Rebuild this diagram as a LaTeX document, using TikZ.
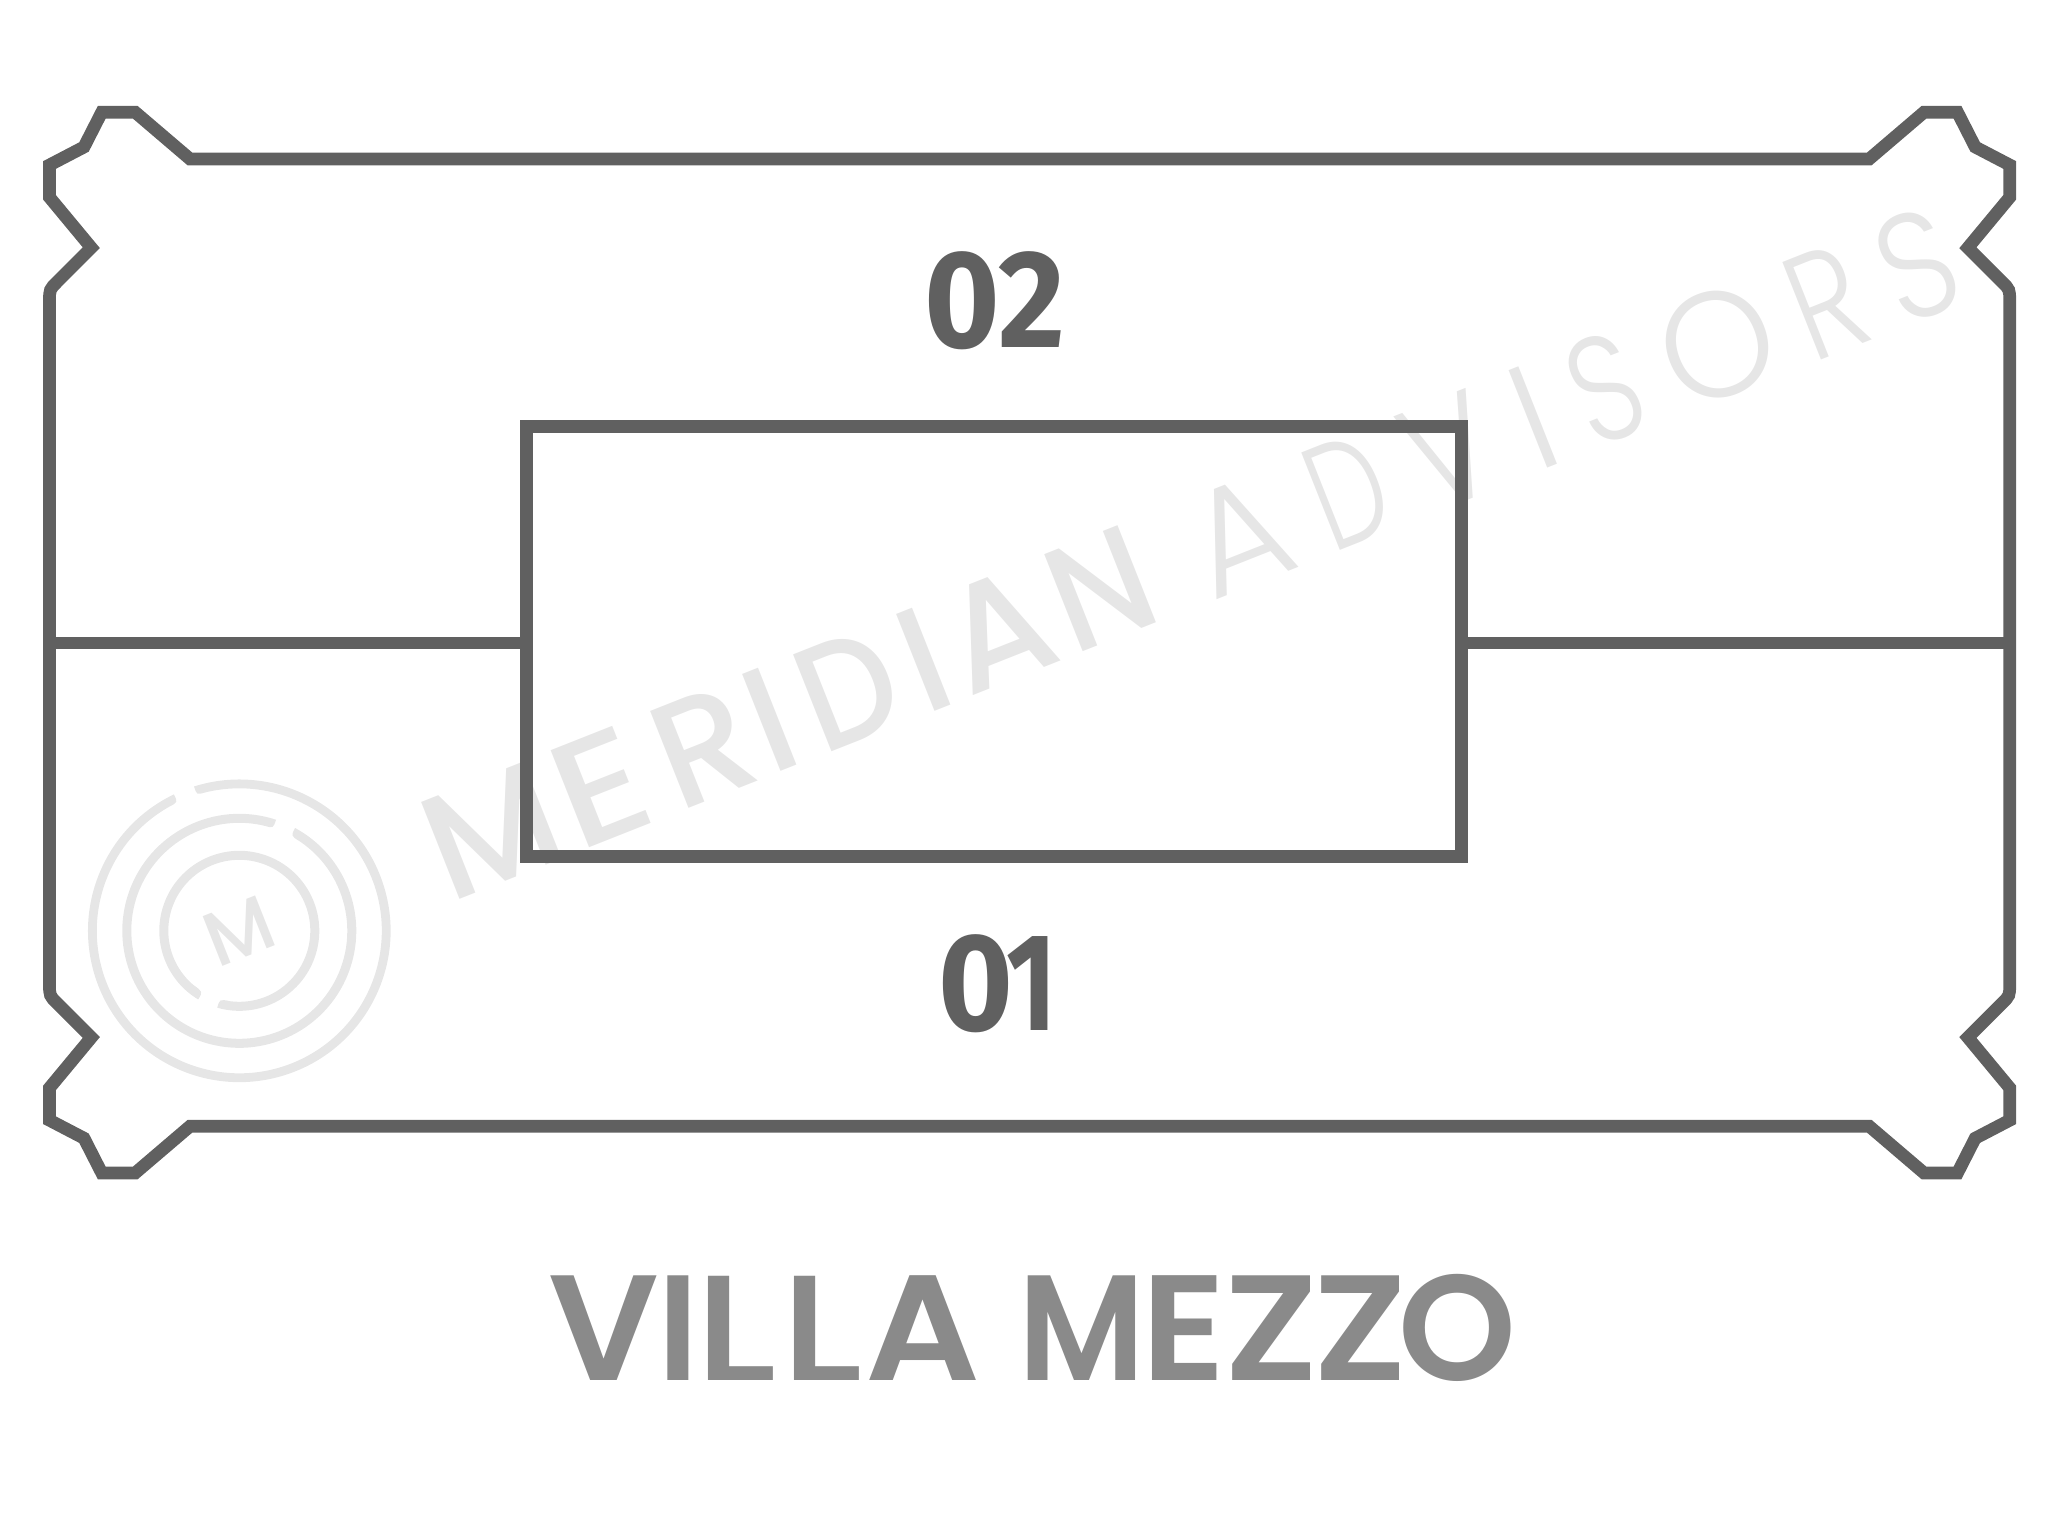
\documentclass[tikz,border=0pt]{standalone}
\usepackage{fontspec}
\usepackage{graphicx}
\setmainfont{Poppins}
\newfontfamily\wmbold{Poppins Medium}
\newfontfamily\wmlight{Poppins Light}
\newfontfamily\logofont{Poppins Medium}
\newfontfamily\titlefont{Poppins SemiBold}
\newfontfamily\titlemed{Poppins Medium}
\newfontfamily\numfont{Fira Sans Bold}
\newcommand{\tlet}[3]{\scalebox{#1}[1]{#2}\kern#3pt\relax}
\newcommand{\tlel}[1]{\scalebox{1.24}[1]{\titlemed L}\kern#1pt\relax}
\definecolor{wall}{HTML}{606060}
\definecolor{wmgrey}{HTML}{E6E6E6}
\definecolor{titlegrey}{HTML}{8A8A8A}
\tikzset{
  wallline/.style={draw=wall,line width=12.7pt,line join=miter,miter limit=10},
  wmtext/.style={text=wmgrey,inner sep=0pt,outer sep=0pt,rotate=21.6,anchor=base west},
  numlabel/.style={text=wall,inner sep=0pt,outer sep=0pt,font=\fontsize{139}{139}\numfont},
}
\begin{document}
\begin{tikzpicture}[x=1pt,y=1pt]
\useasboundingbox (0,0) rectangle (2060,-1532);
% watermark
\node[wmtext,font=\fontsize{150}{150}\wmbold] (wmA) at (449.5,-903) {\tlet{1}{M}{5.7}\tlet{1.15}{E}{18.1}\tlet{1}{R}{4.3}\tlet{1}{I}{15.5}\tlet{.9}{D}{14.1}\tlet{1}{I}{8.5}\tlet{1}{A}{8.3}\tlet{.92}{N}{0}};
\node[wmtext,font=\fontsize{150}{150}\wmlight] (wmB) at (1212,-601) {\tlet{1}{A}{31.4}\tlet{.7}{D}{30.2}\tlet{.85}{V}{31.5}\tlet{1}{I}{27.2}\tlet{.78}{S}{30}\tlet{.97}{O}{24.2}\tlet{.8}{R}{25.8}\tlet{.85}{S}{0}};
\begin{scope}[shift={(239.3,-930.8)}]
  \fill[wmgrey] (107.4:151.3) arc[start angle=107.4,end angle=-244.4,radius=151.3]
    .. controls (115.6:142.5) .. (119.2:142.5)
    arc[start angle=-240.8,end angle=104,radius=142.5]
    .. controls (107.4:142.5) .. cycle;
  \fill[wmgrey] (71.7:117) arc[start angle=71.7,end angle=421.5,radius=117]
    .. controls (421.5:108) .. (415.8:108)
    arc[start angle=415.8,end angle=76.3,radius=108]
    .. controls (71.7:108) .. cycle;
  \fill[wmgrey] (254:80) arc[start angle=254,end angle=599.1,radius=80]
    .. controls (599.1:71) .. (589.7:71)
    arc[start angle=589.7,end angle=262.5,radius=71]
    .. controls (254:71) .. cycle;
\end{scope}
\node[text=wmgrey,inner sep=0pt,outer sep=0pt,rotate=21.6,font=\fontsize{77}{77}\logofont] (logoM) at (239.3,-930.8) {M};
% outline
\draw[wallline] (190,-159) -- (135.3,-112.3) -- (101.7,-112.3) -- (84,-147) -- (49.5,-165) -- (49.5,-197.3) -- (91.3,-247.7)
  -- (57.5,-281.5) .. controls (49.5,-289.5) .. (49.5,-301)
  -- (49.5,-984.2) .. controls (49.5,-995.7) .. (57.5,-1003.7)
  -- (91.3,-1037.5) -- (49.5,-1087.9) -- (49.5,-1120.2) -- (84,-1138.2) -- (101.7,-1172.9) -- (135.3,-1172.9) -- (190,-1126.2)
  -- (1869.2,-1126.2) -- (1923.9,-1172.9) -- (1957.5,-1172.9) -- (1975.2,-1138.2) -- (2009.7,-1120.2) -- (2009.7,-1087.9) -- (1967.9,-1037.5)
  -- (2001.7,-1003.7) .. controls (2009.7,-995.7) .. (2009.7,-984.2)
  -- (2009.7,-301) .. controls (2009.7,-289.5) .. (2001.7,-281.5)
  -- (1967.9,-247.7) -- (2009.7,-197.3) -- (2009.7,-165) -- (1975.2,-147) -- (1957.5,-112.3) -- (1923.9,-112.3) -- (1869.2,-159) -- cycle;
% core
\node[wallline,rectangle,minimum width=935pt,minimum height=430pt,inner sep=0pt,outer sep=0pt] (core) at (994,-641.2) {};
\coordinate (wallL) at (49.5,-643);
\coordinate (wallR) at (2009.7,-643);
\draw[wallline] (wallL) -- (wallL -| core.west);
\draw[wallline] (wallR -| core.east) -- (wallR);
% labels
\node[numlabel] (room2) at (995,-300.7) {\scalebox{.93}[1]{02}};
\node[numlabel] (room1) at (998,-984) {\scalebox{.92}[1]{0}\kern-7pt\scalebox{.78}[1]{1}};
\node[text=titlegrey,inner sep=0pt,outer sep=0pt,anchor=base,font=\fontsize{150}{150}\titlefont] (title) at (1032,-1380) {\tlet{1.04}{V}{-1}\tlet{1}{I}{-5}\tlel{3}\tlel{3}\tlet{1.07}{A}{1.7}\kern0pt\ \tlet{.94}{M}{-3.3}\tlet{1.06}{E}{-2}\tlet{1.09}{Z}{-4.8}\tlet{1.09}{Z}{-9.6}O};
\end{tikzpicture}
\end{document}
